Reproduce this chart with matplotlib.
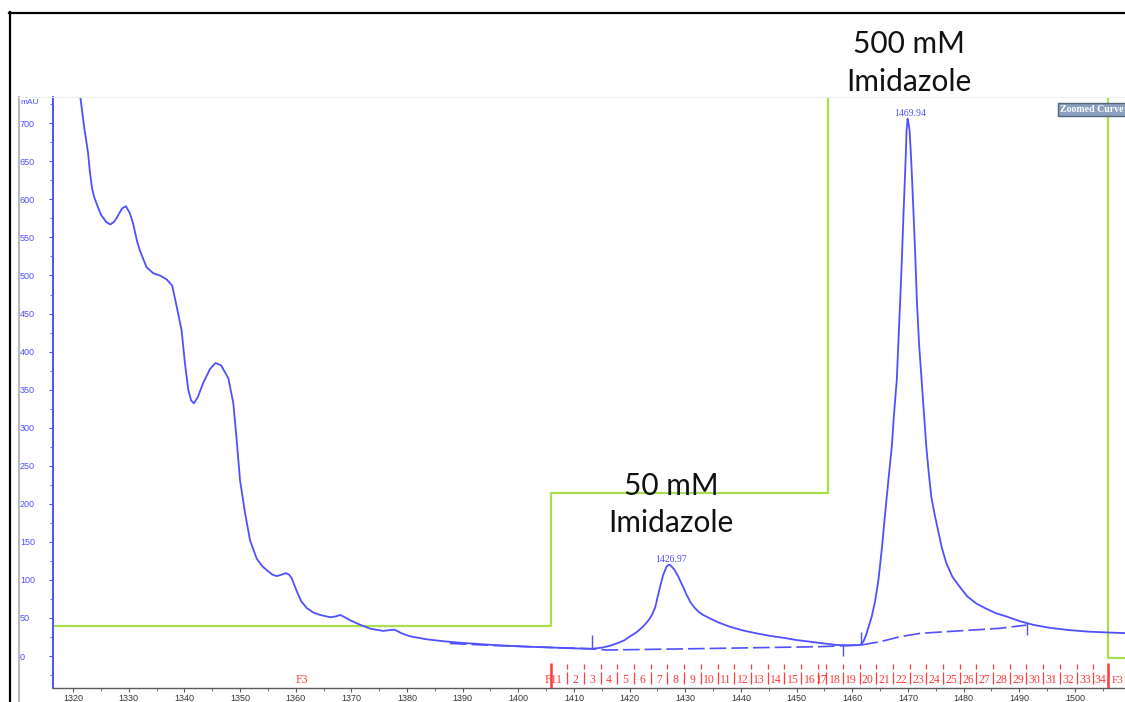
import numpy as np
import matplotlib.pyplot as plt
from matplotlib.lines import Line2D

# UV 280 trace (mL, mAU)
uv_ml = [1320.8, 1321.3, 1322.0, 1322.3, 1322.7, 1323.0, 1323.4, 1323.8, 1324.3, 1325.0,
         1325.5, 1326.0, 1326.7, 1327.3, 1327.8, 1328.8, 1329.5, 1330.2, 1330.8, 1331.5,
         1332.0, 1333.2, 1334.4, 1335.6, 1336.8, 1337.8, 1338.6, 1339.5, 1340.1, 1340.7,
         1341.2, 1341.7, 1342.4, 1343.4, 1344.6, 1345.6, 1346.6, 1347.9, 1348.8, 1349.4,
         1350.0, 1350.9, 1351.8, 1353.0, 1354.0, 1354.8, 1355.8, 1356.6, 1357.5, 1358.2,
         1358.8, 1359.3, 1360.2, 1361.0, 1362.0, 1363.2, 1364.4, 1366.2, 1367.2, 1368.0,
         1368.8, 1369.8, 1371.6, 1373.4, 1375.7, 1376.8, 1377.8, 1379.0, 1380.5, 1383.5,
         1386.5, 1389.5, 1395.5, 1401.5, 1406.3, 1410.5, 1413.2, 1415.0, 1416.5, 1417.7,
         1419.0, 1420.0, 1421.2, 1422.4, 1423.4, 1424.0, 1424.6, 1425.3, 1426.0, 1426.6,
         1427.0, 1427.3, 1428.0, 1428.7, 1429.4, 1430.2, 1430.9, 1431.6, 1432.4, 1433.2,
         1434.4, 1436.0, 1438.0, 1440.4, 1442.8, 1445.2, 1447.6, 1450.0, 1452.4, 1454.8,
         1457.2, 1459.5, 1461.4, 1462.0, 1462.5, 1463.0, 1463.5, 1464.1, 1464.7, 1465.3,
         1465.9, 1466.5, 1467.1, 1467.5, 1468.0, 1468.4, 1468.8, 1469.2, 1469.6, 1469.75,
         1469.94, 1470.15, 1470.3, 1470.6, 1470.9, 1471.3, 1471.6, 1472.0, 1472.45, 1472.9,
         1473.3, 1473.75, 1474.2, 1474.8, 1475.4, 1476.1, 1476.9, 1478.0, 1479.3, 1480.7,
         1482.3, 1484.1, 1485.9, 1487.7, 1490.0, 1492.5, 1495.5, 1499.1, 1502.5, 1505.7,
         1509.5]
uv_mau = [760, 735, 695, 680, 661, 638, 615, 603, 593, 580,
          575, 570, 567, 570, 575, 588, 591, 582, 568, 545,
          533, 511, 503, 500, 495, 487, 460, 428, 385, 350,
          336, 332, 340, 359, 377, 385, 382, 365, 332, 284,
          231, 188, 152, 128, 118, 113, 107, 105, 107, 109,
          107, 102, 85, 72, 63, 57, 54, 51, 52, 54,
          51, 47, 41, 36, 33, 34, 34.5, 30, 26, 22,
          19.5, 17.5, 14.5, 12.3, 11, 10, 9.5, 11, 13.5, 16.6,
          20.5, 25.4, 31, 38.5, 47, 54, 64, 86, 106, 117,
          120, 119.5, 114, 105, 94, 81, 71, 64, 58, 54,
          49.5, 44, 38.5, 33.5, 29.8, 26.5, 24, 21, 18.8, 16.5,
          14.5, 14, 14.5, 19, 28, 40, 52, 72, 100, 140,
          187, 232, 275, 318, 363, 430, 500, 580, 655, 690,
          706, 698, 690, 650, 600, 530, 468, 410, 363, 315,
          275, 240, 209, 186, 166, 142, 122, 104, 91, 78,
          69, 62, 56, 52, 46, 41, 37, 34, 32, 31,
          30]

# imidazole step (drawn on the same mAU scale, top step runs off the plot)
conc_ml = [1316.0, 1405.9, 1405.9, 1455.6, 1455.6, 1505.9, 1505.9, 1512.0]
conc_lvl = [39.4, 39.4, 214, 214, 2000, 2000, -3, -3]

# peak integration baseline
base_ml = [1387.7, 1395.0, 1405.0, 1413.2, 1415.9, 1435.0, 1454.2, 1461.6, 1465.0,
           1468.6, 1472.2, 1476.9, 1481.7, 1486.5, 1491.3]
base_mau = [16.6, 14.0, 11.5, 9.5, 7.9, 10.0, 12.3, 14.5, 18.8,
            25.4, 29.8, 32.0, 34.2, 36.4, 40.7]

# integration limit markers
limit_ml = [1413.2, 1458.4, 1461.6, 1491.4]
limit_lo = [10, 0, 14.5, 28]
limit_hi = [27, 14.5, 32, 43]

# fraction boundaries and numbers
frac_edges = [1405.8, 1408.8, 1411.8, 1414.8, 1417.8, 1420.8, 1423.8, 1426.8, 1429.8,
              1432.8, 1435.8, 1438.8, 1441.8, 1444.8, 1447.8, 1450.8, 1453.8, 1455.3,
              1458.3, 1461.3, 1464.3, 1467.3, 1470.3, 1473.3, 1476.3, 1479.3, 1482.3,
              1485.3, 1488.3, 1491.3, 1494.3, 1497.3, 1500.3, 1503.3, 1505.9]
frac_names = [str(i) for i in range(1, 35)]
frac_marks = [1405.8, 1505.9]

peaks_ml = [1426.97, 1469.94]
peaks_mau = [120, 706]

blue = '#5050ff'
red = '#ff3b3b'
green = '#a8de4c'

W, H = 1125, 702
fig = plt.figure(figsize=(W / 100, H / 100), dpi=100)
ax = fig.add_axes([53 / W, (H - 688) / H, (W - 53) / W, (688 - 97) / H])
ax.set_xlim(1316.4, 1509.0)
ax.set_ylim(-42, 734.5)

ax.plot(conc_ml, conc_lvl, color=green, lw=1.6, zorder=2)
ax.plot(uv_ml, uv_mau, color=blue, lw=1.3, zorder=3)
ax.plot(base_ml, base_mau, color=blue, lw=1.2, dashes=(10, 3), zorder=3)
ax.vlines(limit_ml, limit_lo, limit_hi, color=blue, lw=1.0, zorder=3)

# fraction ruler along the bottom
ax.vlines(frac_edges, -10.5, -17.1, color=red, lw=0.9)
ax.vlines(frac_edges, -21, -36.8, color=red, lw=0.9)
ax.vlines(frac_marks, -9.2, -42, color=red, lw=1.8)
for i, name in enumerate(frac_names):
    mid = (frac_edges[i] + frac_edges[i + 1]) / 2
    ax.text(mid, -35.9, name, ha='center', va='baseline', fontsize=8.5,
            family='Liberation Serif', color=red)
ax.text(1361.1, -35.0, 'F3', ha='center', va='baseline', fontsize=8.5,
        family='Liberation Serif', color=red)
ax.text(1405.8, -35.9, 'F1', ha='center', va='baseline', fontsize=8.5,
        family='Liberation Serif', color=red)
ax.text(1506.6, -35.9, 'F3', ha='left', va='baseline', fontsize=8,
        family='Liberation Serif', color=red, clip_on=False)

# peak retention labels
for pm, pv in zip(peaks_ml, peaks_mau):
    ax.text(pm + 0.4, pv + 4, f'{pm:.2f}', ha='center', va='baseline', fontsize=7,
            family='Liberation Serif', color=blue, clip_on=False)

# step annotations
ax.text(1427.4, 211.6, '50 mM', ha='center', va='baseline', fontsize=21.5,
        family='Lato', color='#111111', zorder=5)
ax.text(1427.4, 163, 'Imidazole', ha='center', va='baseline', fontsize=21.5,
        family='Lato', color='#111111', zorder=5)
ax.text(1470.2, 792, '500 mM', ha='center', va='baseline', fontsize=21.5,
        family='Lato', color='#111111', clip_on=False)
ax.text(1470.2, 742, 'Imidazole', ha='center', va='baseline', fontsize=21.5,
        family='Lato', color='#111111', clip_on=False)

# axes styling
for side in ['top', 'right']:
    ax.spines[side].set_visible(False)
ax.spines['left'].set_color(blue)
ax.spines['left'].set_linewidth(1.4)
ax.spines['bottom'].set_color('#5a5a5a')
ax.spines['bottom'].set_linewidth(1.0)

ax.set_xticks(np.arange(1320, 1501, 10))
ax.set_xticks(np.arange(1320, 1506, 5), minor=True)
ax.set_yticks(np.arange(0, 701, 50))
ax.set_yticks(np.arange(-25, 726, 25), minor=True)
ax.tick_params(axis='x', which='both', direction='out', color='#5a5a5a',
               labelcolor='#333333', labelsize=6.5, pad=1.5)
ax.tick_params(axis='x', which='major', length=3)
ax.tick_params(axis='x', which='minor', length=2)
ax.tick_params(axis='y', which='both', direction='out', color=blue,
               labelcolor=blue, labelsize=6.5, pad=20.8)
ax.tick_params(axis='y', which='major', length=3)
ax.tick_params(axis='y', which='minor', length=2)
for lbl in ax.get_xticklabels() + ax.get_yticklabels():
    lbl.set_family('Liberation Sans')
for lbl in ax.get_yticklabels():
    lbl.set_ha('left')

fig.text(20 / W, 1 - 104 / H, 'mAU', fontsize=6, color=blue, family='Liberation Sans')
fig.text(1060 / W, 1 - 112 / H, 'Zoomed Curve', fontsize=7.1, color='white',
         family='Liberation Serif', weight='bold',
         bbox=dict(boxstyle='square,pad=0.25', fc='#8b9fbf', ec='#55657a', lw=1))

# window edges around the screenshot
fig.add_artist(Line2D([18.5 / W, 18.5 / W], [0, 1 - 97 / H], transform=fig.transFigure,
                      color='#b8b8b8', lw=1.5))
fig.add_artist(Line2D([19 / W, 1], [1 - 97 / H, 1 - 97 / H], transform=fig.transFigure,
                      color='#eeeeee', lw=0.8))
fig.add_artist(Line2D([9.5 / W, 9.5 / W], [0, 1 - 12 / H], transform=fig.transFigure,
                      color='black', lw=1.6))
fig.add_artist(Line2D([9 / W, 1], [1 - 12.5 / H, 1 - 12.5 / H], transform=fig.transFigure,
                      color='black', lw=1.6))

fig.savefig('out.png', dpi=100)
